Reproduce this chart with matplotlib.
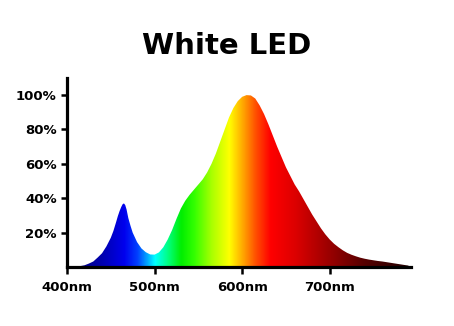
import numpy as np
import matplotlib
matplotlib.use('Agg')
import matplotlib.pyplot as plt
from matplotlib.colors import LinearSegmentedColormap

# spectrum (nm, % of peak)
wavelength = [400, 405, 410, 415, 420, 425, 430, 435, 440, 445, 450, 453, 456, 458, 460,
              462, 463.5, 465, 466.5, 468, 470, 472.5, 475, 480, 485, 490, 495, 500, 505,
              510, 515, 520, 525, 530, 535, 540, 545, 550, 555, 560, 565, 570, 575, 580,
              585, 590, 595, 600, 605, 610, 615, 620, 625, 630, 635, 640, 645, 650, 655,
              660, 665, 670, 675, 680, 685, 690, 695, 700, 705, 710, 715, 720, 725, 730,
              735, 740, 745, 750, 755, 760, 765, 770, 775, 780, 785, 790]
intensity = [0, 0, 0.2, 0.5, 1, 2, 3.2, 5.5, 8, 12, 17, 21, 26, 29.5, 32.5,
             35, 36.5, 37, 36, 33.5, 28.5, 24, 20, 14.5, 10.8, 8.6, 7.3, 7.2, 8.5,
             11.5, 16, 21.5, 28, 34, 38.5, 42, 45, 48, 51, 55, 60, 66, 73, 80,
             87, 92.5, 96.5, 99, 100, 99.8, 98, 94, 89, 83, 76.5, 70, 64, 58, 53,
             48, 44, 39.5, 35, 30.5, 26.5, 22.5, 19, 16, 13.5, 11.5, 9.7, 8.2, 7.1, 6.2,
             5.4, 4.8, 4.3, 3.9, 3.5, 3.2, 2.8, 2.4, 2, 1.6, 1.2, 0.8]

# colour stops of the rainbow fill
stop_nm = [400, 440, 465, 480, 492, 500, 515, 530, 545, 565, 585, 600, 615, 632, 660, 700, 740, 793]
stop_col = ['#000070', '#0000b0', '#0000ee', '#0040ff', '#00b0ff', '#00ffff', '#00ff80',
            '#00ee00', '#33ff00', '#aaff00', '#ffff00', '#ffaa00', '#ff5000', '#ff0000',
            '#dd0000', '#990000', '#550000', '#200000']

yticks = [20, 40, 60, 80, 100]
ylabels = ['20%', '40%', '60%', '80%', '100%']
xticks = [400, 500, 600, 700]
xlabels = ['400nm', '500nm', '600nm', '700nm']

xmin, xmax = 400, 793
pos = [(n - xmin) / (xmax - xmin) for n in stop_nm]
cmap = LinearSegmentedColormap.from_list('spec', list(zip(pos, stop_col)))

fig = plt.figure(figsize=(4.54, 3.26), dpi=100)
ax = fig.add_axes([0.1476, 0.181, 0.758, 0.58])

poly = ax.fill_between(wavelength, intensity, 0, color='none', lw=0)
grad = np.linspace(0, 1, 512).reshape(1, -1)
img = ax.imshow(grad, cmap=cmap, aspect='auto', extent=[xmin, xmax, 0, 110],
                interpolation='bilinear', zorder=1)
img.set_clip_path(poly.get_paths()[0], transform=ax.transData)

ax.set_xlim(xmin, xmax)
ax.set_ylim(0, 110)
ax.spines['top'].set_visible(False)
ax.spines['right'].set_visible(False)
for s in ['left', 'bottom']:
    ax.spines[s].set_linewidth(2.3)
    ax.spines[s].set_zorder(3)

ax.set_yticks(yticks)
ax.set_yticklabels(ylabels, fontweight='bold', fontsize=9.5)
ax.set_xticks(xticks)
ax.set_xticklabels(xlabels, fontweight='bold', fontsize=9.5)
ax.tick_params(axis='y', length=4.5, width=1.8, pad=3)
ax.tick_params(axis='x', length=5, width=1.8, pad=5)

fig.text(0.5, 0.859, 'White LED', ha='center', va='center', fontsize=21, fontweight='bold')

fig.savefig('out.png', dpi=100)
